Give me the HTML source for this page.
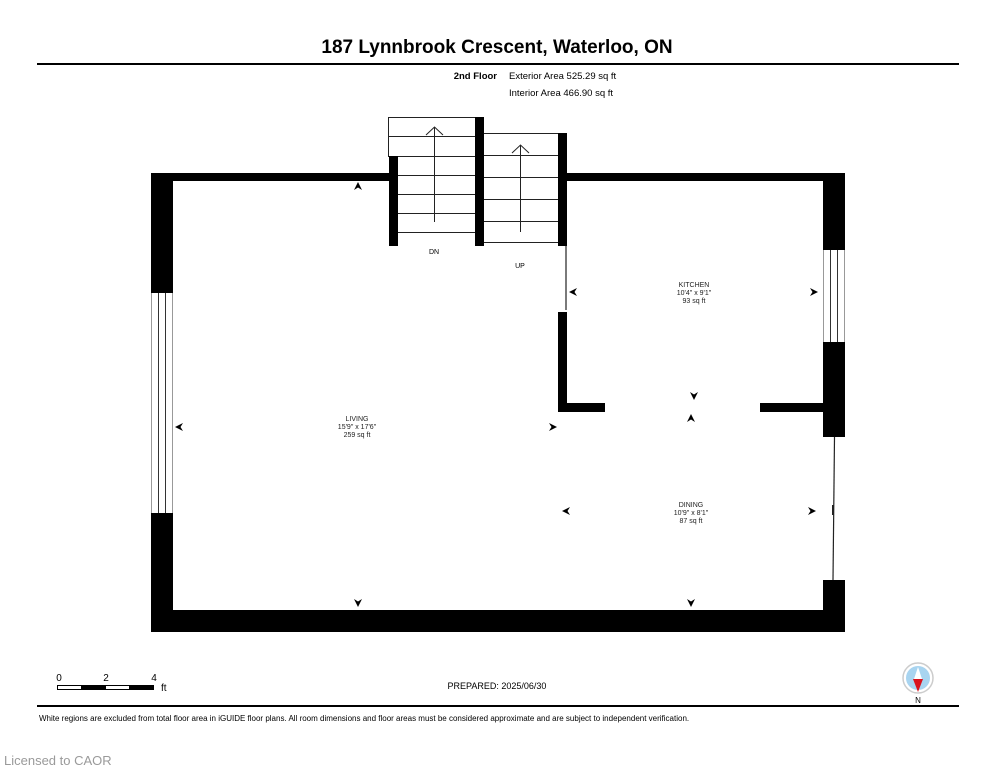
<!DOCTYPE html>
<html><head><meta charset="utf-8"><style>
body{margin:0;background:#fff;width:995px;height:768px;overflow:hidden;font-family:"Liberation Sans",Arial,sans-serif}
</style></head><body>
<svg width="995" height="768" viewBox="0 0 995 768" xmlns="http://www.w3.org/2000/svg" font-family="Liberation Sans, Arial, sans-serif">
<defs>
<path id="ah" d="M0,-4 L4,4 L0,1.5 L-4,4 Z" fill="#000"/>
</defs>
<text x="497" y="53" text-anchor="middle" font-size="19" font-weight="bold">187 Lynnbrook Crescent, Waterloo, ON</text>
<rect x="37" y="63" width="922" height="2" fill="#000"/>
<text x="497" y="79" text-anchor="end" font-size="9.5" font-weight="bold">2nd Floor</text>
<text x="509" y="79" font-size="9.5">Exterior Area 525.29 sq ft</text>
<text x="509" y="96" font-size="9.5">Interior Area 466.90 sq ft</text>

<!-- outer walls -->
<rect x="151" y="173" width="238" height="8" fill="#000"/>
<rect x="567" y="173" width="278" height="8" fill="#000"/>
<rect x="151" y="173" width="22" height="120" fill="#000"/>
<rect x="151" y="513" width="22" height="119" fill="#000"/>
<rect x="151" y="610" width="694" height="22" fill="#000"/>
<rect x="823" y="173" width="22" height="77" fill="#000"/>
<rect x="823" y="342" width="22" height="95" fill="#000"/>
<rect x="823" y="580" width="22" height="52" fill="#000"/>
<!-- left window -->
<g stroke-width="1">
<line x1="151.5" y1="293" x2="151.5" y2="513" stroke="#999"/>
<line x1="158.5" y1="293" x2="158.5" y2="513" stroke="#333"/>
<line x1="165.5" y1="293" x2="165.5" y2="513" stroke="#333"/>
<line x1="172.5" y1="293" x2="172.5" y2="513" stroke="#999"/>
<line x1="823.5" y1="250" x2="823.5" y2="342" stroke="#999"/>
<line x1="830.5" y1="250" x2="830.5" y2="342" stroke="#333"/>
<line x1="837.5" y1="250" x2="837.5" y2="342" stroke="#333"/>
<line x1="844.5" y1="250" x2="844.5" y2="342" stroke="#999"/>
<line x1="834.5" y1="437" x2="833" y2="580" stroke="#222" stroke-width="1.2"/>
<rect x="832" y="505" width="2" height="10" fill="#222"/>
</g>
<!-- interior walls -->
<rect x="558" y="312" width="9" height="100" fill="#000"/>
<rect x="558" y="403" width="47" height="9" fill="#000"/>
<rect x="760" y="403" width="63" height="9" fill="#000"/>
<line x1="566" y1="246" x2="566" y2="310" stroke="#222" stroke-width="1.2"/>

<!-- stairs -->
<g stroke="#222" stroke-width="1" fill="none">
<rect x="388.5" y="117.5" width="87" height="39" fill="#fff"/>
<line x1="388" y1="136.5" x2="475" y2="136.5"/>
<line x1="398" y1="156.5" x2="475" y2="156.5"/>
<line x1="398" y1="175.5" x2="475" y2="175.5"/>
<line x1="398" y1="194.5" x2="475" y2="194.5"/>
<line x1="398" y1="213.5" x2="475" y2="213.5"/>
<line x1="398" y1="232.5" x2="475" y2="232.5"/>
<line x1="434.5" y1="127" x2="434.5" y2="222"/>
<polyline points="426,135 434.5,127 443,135"/>
<line x1="484" y1="133.5" x2="558" y2="133.5"/>
<line x1="484" y1="155.5" x2="558" y2="155.5"/>
<line x1="484" y1="177.5" x2="558" y2="177.5"/>
<line x1="484" y1="199.5" x2="558" y2="199.5"/>
<line x1="484" y1="221.5" x2="558" y2="221.5"/>
<line x1="484" y1="242.5" x2="558" y2="242.5"/>
<line x1="520.5" y1="145" x2="520.5" y2="232"/>
<polyline points="512,153 520.5,145 529,153"/>
</g>
<rect x="389" y="156" width="9" height="90" fill="#000"/>
<rect x="475" y="117" width="9" height="129" fill="#000"/>
<rect x="558" y="133" width="9" height="113" fill="#000"/>
<text x="434" y="254" text-anchor="middle" font-size="7">DN</text>
<text x="520" y="268" text-anchor="middle" font-size="7">UP</text>

<!-- arrowheads -->
<use href="#ah" transform="translate(358,186)"/>
<use href="#ah" transform="translate(179,427) rotate(-90)"/>
<use href="#ah" transform="translate(553,427) rotate(90)"/>
<use href="#ah" transform="translate(573,292) rotate(-90)"/>
<use href="#ah" transform="translate(814,292) rotate(90)"/>
<use href="#ah" transform="translate(694,396) rotate(180)"/>
<use href="#ah" transform="translate(691,418)"/>
<use href="#ah" transform="translate(566,511) rotate(-90)"/>
<use href="#ah" transform="translate(812,511) rotate(90)"/>
<use href="#ah" transform="translate(358,603) rotate(180)"/>
<use href="#ah" transform="translate(691,603) rotate(180)"/>

<!-- room labels -->
<g font-size="7" text-anchor="middle" fill="#222">
<text x="357" y="421">LIVING</text><text x="357" y="429">15'9" x 17'6"</text><text x="357" y="437">259 sq ft</text>
<text x="694" y="287">KITCHEN</text><text x="694" y="295">10'4" x 9'1"</text><text x="694" y="303">93 sq ft</text>
<text x="691" y="507">DINING</text><text x="691" y="515">10'9" x 8'1"</text><text x="691" y="523">87 sq ft</text>
</g>

<!-- scale -->
<text x="59" y="681" text-anchor="middle" font-size="10">0</text>
<text x="106" y="681" text-anchor="middle" font-size="10">2</text>
<text x="154" y="681" text-anchor="middle" font-size="10">4</text>
<text x="161" y="691" font-size="10">ft</text>
<rect x="57.5" y="685.5" width="96" height="4" fill="#fff" stroke="#000"/>
<rect x="81" y="685" width="25" height="5" fill="#000"/>
<rect x="129" y="685" width="25" height="5" fill="#000"/>
<text x="497" y="689" text-anchor="middle" font-size="9">PREPARED: 2025/06/30</text>
<!-- compass -->
<circle cx="918" cy="678" r="15" fill="#fff" stroke="#ccc" stroke-width="1.5"/>
<circle cx="918" cy="678" r="12" fill="#a8d4f0"/>
<polygon points="918,667 914,679 922,679" fill="#fff"/>
<polygon points="913,679 923,679 918,692" fill="#d9121c"/>
<text x="918" y="703" text-anchor="middle" font-size="8">N</text>
<rect x="37" y="705" width="922" height="2" fill="#000"/>
<text x="39" y="721" font-size="8">White regions are excluded from total floor area in iGUIDE floor plans. All room dimensions and floor areas must be considered approximate and are subject to independent verification.</text>
<text x="4" y="765" font-size="13" fill="#9a9a9a">Licensed to CAOR</text>
</svg>
</body></html>
